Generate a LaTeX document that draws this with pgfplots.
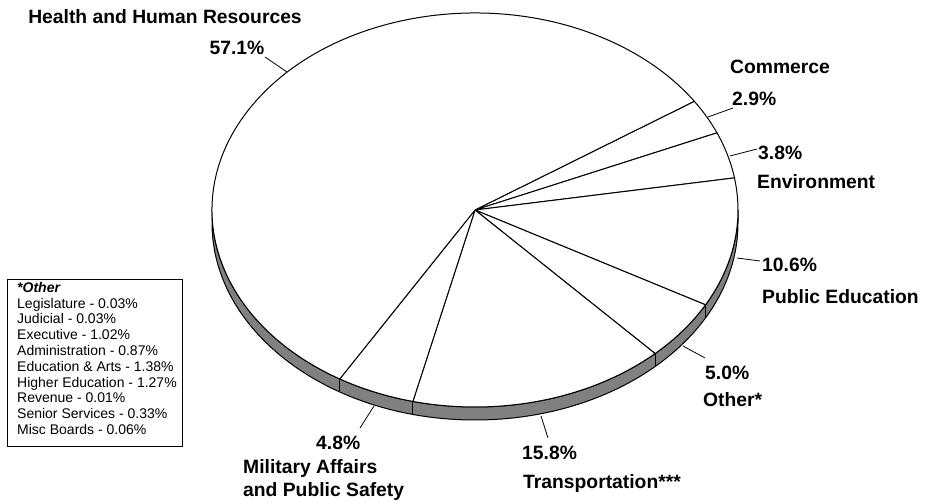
\documentclass[border=0pt]{standalone}
\usepackage{pgfplots}
\pgfplotsset{compat=1.18}
\usepackage{pgfplotstable}
\usepackage{fontspec}
\setmainfont{Liberation Sans}
\definecolor{sidegray}{RGB}{128,128,128}
\pgfplotstableread{
name value
Commerce 2.9
Environment 3.8
PublicEducation 10.6
Other 5.0
Transportation 15.8
Military 4.8
Health 57.1
}\piedata
\begin{document}
\begin{tikzpicture}
\begin{axis}[width=927pt,height=502pt,scale only axis,xmin=0,xmax=927,ymin=0,ymax=502,hide axis,clip=false]
\pgfplotsextra{
  \def\cx{475}\def\cy{292}\def\rx{263}\def\ry{197}\def\th{13pt}
  \filldraw[fill=sidegray,draw=black,line width=1pt,line join=round] (axis cs:212,292) arc[start angle=180,end angle=360,x radius=\rx pt,y radius=\ry pt] -- ++(0,-\th) arc[start angle=360,end angle=180,x radius=\rx pt,y radius=\ry pt] -- cycle;
  \gdef\acc{33.5}
  \foreach \i in {0,...,6}{
    \pgfplotstablegetelem{\i}{value}\of\piedata
    \pgfmathsetmacro\endang{\acc-3.6*\pgfplotsretval}
    \filldraw[fill=white,draw=black,line width=1pt,line join=round] (axis cs:\cx,\cy) -- ++(\acc:\rx pt and \ry pt) arc[start angle=\acc,end angle=\endang,x radius=\rx pt,y radius=\ry pt] -- cycle;
    \pgfmathtruncatemacro\isfront{sin(\endang)<0}
    \ifnum\isfront=1
      \draw[line width=1pt] (axis cs:\cx,\cy) ++(\endang:\rx pt and \ry pt) -- ++(0,-\th);
    \fi
    \xdef\acc{\endang}
  }
  % leader lines
  \begin{scope}[line width=0.8pt]
    \draw (axis cs:265,445) -- (axis cs:287,430);
    \draw (axis cs:708,385) -- (axis cs:733,394);
    \draw (axis cs:730,346) -- (axis cs:757,353);
    \draw (axis cs:737,244) -- (axis cs:760,241);
    \draw (axis cs:683,156) -- (axis cs:705,144);
    \draw (axis cs:541,86) -- (axis cs:548,64);
    \draw (axis cs:374,96) -- (axis cs:360,74);
  \end{scope}
  % labels
  \begin{scope}[every node/.style={inner sep=0pt,font=\fontsize{19.3}{23}\selectfont\bfseries}]
    \node[anchor=base] at (axis cs:165,478) {Health and Human Resources};
    \node[anchor=base] at (axis cs:237,447) {57.1\%};
    \node[anchor=base west] at (axis cs:730,428) {Commerce};
    \node[anchor=base west] at (axis cs:732,396) {2.9\%};
    \node[anchor=base west] at (axis cs:758,342) {3.8\%};
    \node[anchor=base west] at (axis cs:757,313) {Environment};
    \node[anchor=base west] at (axis cs:762,230) {10.6\%};
    \node[anchor=base west] at (axis cs:762,198) {Public Education};
    \node[anchor=base west] at (axis cs:705,122) {5.0\%};
    \node[anchor=base west] at (axis cs:703,95) {Other*};
    \node[anchor=base west] at (axis cs:522,42) {15.8\%};
    \node[anchor=base west] at (axis cs:523,13) {Transportation***};
    \node[anchor=base west] at (axis cs:316,52) {4.8\%};
    \node[anchor=base west] at (axis cs:243,28) {Military Affairs};
    \node[anchor=base west,text depth=0pt] at (axis cs:243,5) {and Public Safety};
  \end{scope}
  % other box
  \draw[line width=1pt] (axis cs:7,55) rectangle (axis cs:182,222);
  \node[anchor=north west,inner sep=0pt,align=left,font=\fontsize{14}{15.8}\selectfont] at (axis cs:17,220)
    {\textbf{\textit{*Other}}\\
     Legislature - 0.03\%\\
     Judicial - 0.03\%\\
     Executive - 1.02\%\\
     Administration - 0.87\%\\
     Education \& Arts - 1.38\%\\
     Higher Education - 1.27\%\\
     Revenue - 0.01\%\\
     Senior Services - 0.33\%\\
     Misc Boards - 0.06\%};
}
\end{axis}
\pgfresetboundingbox
\useasboundingbox (current axis.south west) rectangle (current axis.north east);
\end{tikzpicture}
\end{document}
